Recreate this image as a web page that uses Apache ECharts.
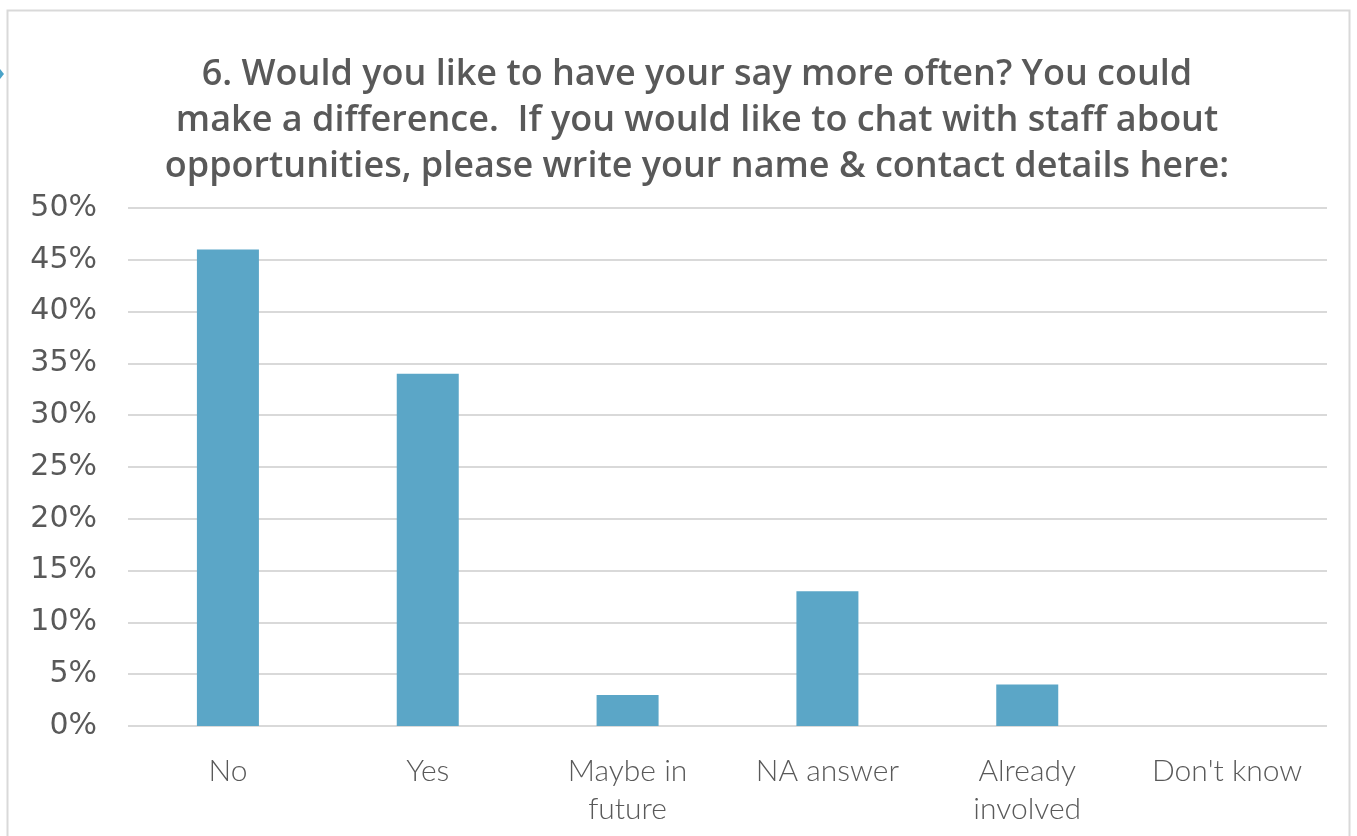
<!DOCTYPE html>
<html><head><meta charset="utf-8">
<script src="https://cdn.jsdelivr.net/npm/echarts@6/dist/echarts.min.js"></script>
<style>html,body{margin:0;padding:0;background:#fff}#c{width:1357px;height:836px}</style>
</head><body><div id="c"></div>
<script>
const categories = ["No", "Yes", "Maybe in\nfuture", "NA answer", "Already\ninvolved", "Don't know"];
const values = [46, 34, 3, 13, 4, 0];
const yTicks = [0, 5, 10, 15, 20, 25, 30, 35, 40, 45, 50];
const titleText = "6. Would you like to have your say more often? You could\nmake a difference.  If you would like to chat with staff about\nopportunities, please write your name & contact details here:";

const chart = echarts.init(document.getElementById('c'));
chart.setOption({
  animation: false,
  backgroundColor: '#fff',
  title: {
    text: titleText,
    left: 692, top: 47, textAlign: 'center',
    textStyle: {fontFamily: 'Open Sans', fontWeight: 600, fontSize: 36, color: '#595959', lineHeight: 46}
  },
  grid: {left: 128, right: 30, top: 208, bottom: 110},
  xAxis: {
    type: 'category', data: categories,
    axisLine: {show: false}, axisTick: {show: false},
    axisLabel: {fontFamily: 'Lato', fontWeight: 300, fontSize: 30, color: '#595959', margin: 26, lineHeight: 38, interval: 0}
  },
  yAxis: {
    type: 'value', min: yTicks[0], max: yTicks[yTicks.length-1], interval: 5,
    axisLine: {show: false}, axisTick: {show: false},
    splitLine: {lineStyle: {color: '#d9d9d9', width: 2}},
    axisLabel: {fontFamily: 'DejaVu Sans', fontSize: 30, color: '#595959', margin: 31, formatter: v => v + '%'}
  },
  series: [{
    type: 'bar', data: values, barWidth: 62,
    itemStyle: {color: '#5ba6c7'}
  }],
  graphic: [
    {type: 'rect', shape: {x: 7.5, y: 10.5, width: 1342, height: 900}, style: {fill: 'none', stroke: '#d9d9d9', lineWidth: 2}, z: -1},
    {type: 'polygon', shape: {points: [[0, 69], [4, 74], [0, 79]]}, style: {fill: '#4aa3c8'}}
  ]
});
</script></body></html>
